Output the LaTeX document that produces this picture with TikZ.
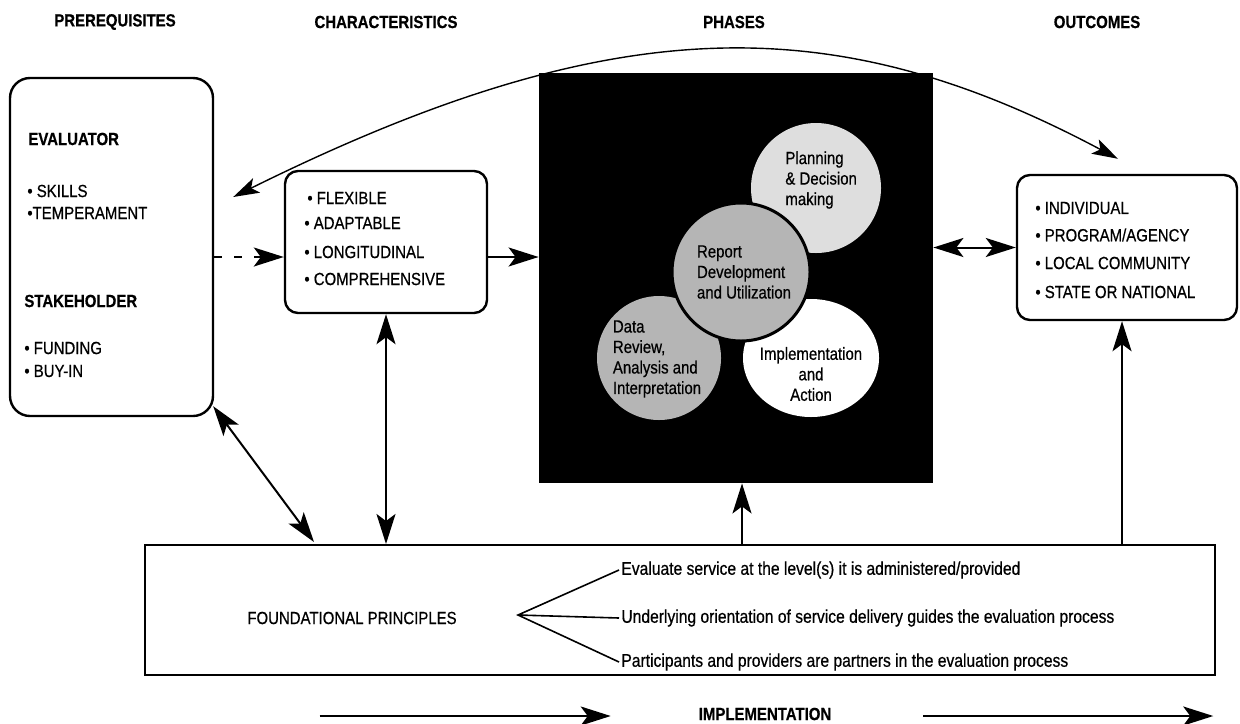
\documentclass[tikz,border=0pt]{standalone}
\usepackage{fontspec}
\setmainfont{Liberation Sans}[FakeStretch=0.85,FakeBold=0.6]
\usetikzlibrary{arrows.meta}
\usetikzlibrary{calc}
\usetikzlibrary{shapes.geometric}
\colorlet{lightph}{black!13}
\colorlet{midph}{black!29}
\tikzset{
  hdr/.style={font=\fontsize{8.8}{10}\selectfont\bfseries},
  item/.style={font=\fontsize{8.8}{10}\selectfont,anchor=west,inner sep=0pt},
  bitem/.style={item,font=\fontsize{8.8}{10}\selectfont\bfseries},
  phtxt/.style={font=\fontsize{8.8}{10.25}\selectfont,inner sep=0pt},
  sent/.style={font=\fontsize{9.2}{10}\selectfont,anchor=west,inner sep=1pt},
  rbox/.style={draw,line width=1.2pt,rounded corners=6.5pt,inner sep=0pt},
  lnk/.style={line width=1pt,-{Stealth[length=15pt,width=9.5pt,inset=3.5pt]}},
  dlnk/.style={line width=1pt,{Stealth[length=15pt,width=9.5pt,inset=3.5pt]}-{Stealth[length=15pt,width=9.5pt,inset=3.5pt]}},
  arcl/.style={line width=0.7pt,{Stealth[length=13pt,width=8pt,inset=3pt]}-{Stealth[length=13pt,width=8pt,inset=3pt]}}
}
\begin{document}
\begin{tikzpicture}[x=0.5pt,y=-0.5pt]
    \useasboundingbox (0,0) rectangle (1240,723);
    % Headers
    \node[hdr] (hpre) at (115,22) {PREREQUISITES};
    \node[hdr] (hchar) at (386,22) {CHARACTERISTICS};
    \node[hdr] (hphase) at (734,22) {PHASES};
    \node[hdr] (hout) at (1097,22) {OUTCOMES};
    % Boxes
    \node[rbox,rounded corners=10pt,minimum width=101.5pt,minimum height=169pt]
      (prereq) at (111.5,247) {};
    \node[rbox,minimum width=101pt,minimum height=71pt]
      (chars) at (386,242) {};
    \node[fill=black,inner sep=0pt,minimum width=197pt,minimum height=205pt]
      (phases) at (736,278) {};
    \node[rbox,minimum width=110pt,minimum height=72.5pt]
      (outcomes) at (1127,247.5) {};
    \node[draw,line width=1pt,inner sep=0pt,minimum width=535pt,minimum height=65pt]
      (found) at (680,610) {};
    % Box texts
    \node[bitem] (evl) at (28,139) {EVALUATOR};
    \node[item] (skl) at (27,191) {• SKILLS};
    \node[item] (tmp) at (27,213) {•TEMPERAMENT};
    \node[bitem] (stk) at (24,301) {STAKEHOLDER};
    \node[item] (fnd) at (24,348) {• FUNDING};
    \node[item] (buy) at (24,371) {• BUY-IN};
    \node[item] (flx) at (307,198) {• FLEXIBLE};
    \node[item] (adp) at (304,223) {• ADAPTABLE};
    \node[item] (lng) at (304,252) {• LONGITUDINAL};
    \node[item] (cmp) at (304,279) {• COMPREHENSIVE};
    \node[item] (ind) at (1035,208) {• INDIVIDUAL};
    \node[item] (prg) at (1035,235) {• PROGRAM/AGENCY};
    \node[item] (loc) at (1035,263) {• LOCAL COMMUNITY};
    \node[item] (sta) at (1035,292) {• STATE OR NATIONAL};
    % Phases
    \node[circle,fill=lightph,inner sep=0pt,minimum size=65pt] (plan) at (816,188) {};
    \node[circle,fill=midph,inner sep=0pt,minimum size=62pt] (data) at (659,358) {};
    \node[ellipse,fill=white,inner sep=0pt,minimum width=68pt,minimum height=59pt]
      (act) at (811,358) {};
    \node[circle,fill=midph,draw,line width=1.5pt,inner sep=0pt,minimum size=69pt]
      (report) at (741,272) {};
    \node[phtxt,align=left,anchor=west] (plantxt) at (785,180)
      {Planning\\\& Decision\\making};
    \node[phtxt,align=left] (reporttxt) at (744,272)
      {Report\\Development\\and Utilization};
    \node[phtxt,align=left] (datatxt) at (657,359)
      {Data\\Review,\\Analysis and\\Interpretation};
    \node[phtxt,align=center] (acttxt) at (811,374)
      {Implementation\\and\\Action};
    % Principles
    \node[item,anchor=center] (fplbl) at (352,618) {FOUNDATIONAL PRINCIPLES};
    \coordinate (fork) at (518,615);
    \node[sent] (pr1) at (619,570) {Evaluate service at the level(s) it is administered/provided};
    \node[sent] (pr2) at (619,618) {Underlying orientation of service delivery guides the evaluation process};
    \node[sent] (pr3) at (619,662) {Participants and providers are partners in the evaluation process};
    \draw[line width=0.8pt] (pr1.west) -- (fork) -- (pr3.west)
      (fork) -- (pr2.west);
    % Links
    \draw[lnk,dash pattern=on 4pt off 6pt]
      ($(prereq.east)+(0,10)$) -- ($(chars.west)+(0,15)$);
    \draw[lnk] ($(chars.east)+(0,15)$) -- ($(chars.east -| phases.west)+(0,15)$);
    \draw[dlnk] (phases.east |- outcomes.west) -- (outcomes.west);
    \draw[dlnk] (chars.south) -- (chars.south |- found.north);
    \coordinate (dA) at ($(prereq.south east)+(-1,-11)$);
    \coordinate (dB) at ($(found.north west)+(170,-2)$);
    \draw[dlnk] (dA) -- (dB);
    \coordinate (up1) at ($(phases.south)+(6,0)$);
    \draw[lnk] (up1 |- found.north) -- (up1);
    \coordinate (up2) at ($(outcomes.south)+(-5,0)$);
    \draw[lnk] (up2 |- found.north) -- (up2);
    \coordinate (arcL) at ($(prereq.east)+(19,-50)$);
    \coordinate (arcR) at ($(outcomes.north)+(-9,-15)$);
    \draw[arcl] (arcL) .. controls (619,6) and (838,10) .. (arcR);
    % Implementation
    \node[hdr] (impl) at (765,714) {IMPLEMENTATION};
    \coordinate (imA) at ($(impl.west)+(-372,2)$);
    \coordinate (imB) at ($(impl.west)+(-81,2)$);
    \coordinate (imC) at ($(impl.east)+(85,2)$);
    \coordinate (imD) at ($(impl.east)+(375,2)$);
    \draw[lnk,line width=1.2pt] (imA) -- (imB);
    \draw[lnk,line width=1.2pt] (imC) -- (imD);
  \end{tikzpicture}
\end{document}
